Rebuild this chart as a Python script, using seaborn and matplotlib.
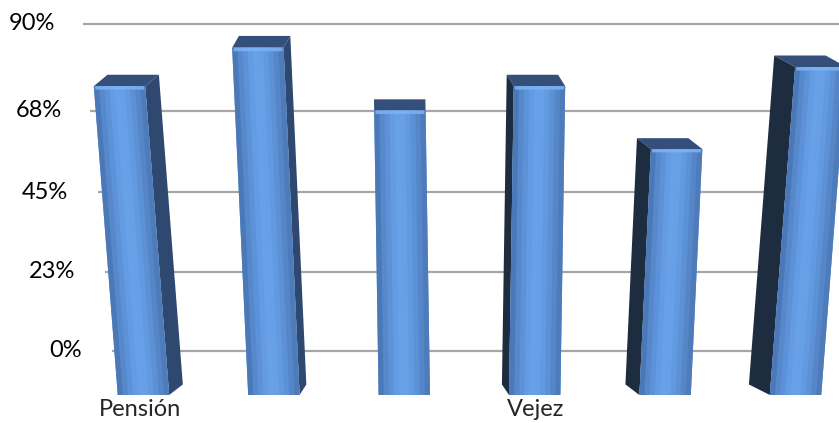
import matplotlib.pyplot as plt
import matplotlib.transforms as mtransforms
import numpy as np
import pandas as pd
import seaborn as sns
from matplotlib.patches import Polygon

# chart data
bar_ids = ["b1", "b2", "b3", "b4", "b5", "b6"]
values = [77, 87, 70.5, 77, 60, 82]
tick_labels = ["Pensión", "", "", "Vejez", "", ""]
grid_levels = [0, 22.5, 45, 67.5, 90]
grid_labels = ["0%", "23%", "45%", "68%", "90%"]

# pixel geometry of the fake 3D view
PX_X, X0 = 131.8, 140.0   # px per category, px of first category at y=0
Y0 = 351.0                # px of the 0% line (from top)
DEPTH_Y = 3.0             # top face depth in percent

FRONT = "#5b8fd6"
TOP = "#34507a"
SIDE_R = "#2e4870"
SIDE_L = "#1e2c40"
# horizontal shading across the front face (left -> right)
FRONT_SHADES = ["#4b79b8", "#5688cc", "#5d92d8", "#649ce3", "#68a1e8",
                "#67a0e7", "#629ae0", "#5c91d6", "#5686c8", "#4e7bb9"]


def fwd(y):
    # slight perspective: the upper part of the wall is stretched (px units)
    y = np.asarray(y, dtype=float)
    return 3.511 * y + 1.68e-7 * y ** 4 * np.sign(y)


_grid = np.linspace(-60, 140, 4001)


def inv(p):
    return np.interp(p, fwd(_grid), _grid)


def xd(px):
    return (px - X0) / PX_X


FLOOR = float(inv(Y0 - 395))

df = pd.DataFrame({"bar": bar_ids, "value": values})

sns.set_theme(style="white")
plt.rcParams["font.family"] = ["Lato", "DejaVu Sans"]

fig = plt.figure(figsize=(8.39, 4.23), dpi=100)
ax = fig.add_axes([0, 0, 1, 1])

sns.barplot(data=df, x="bar", y="value", order=bar_ids, color=FRONT,
            width=0.39, saturation=1, errorbar=None, ax=ax, zorder=3)

ax.set_yscale("function", functions=(fwd, inv))
ax.set_xlim(xd(0), xd(839))
ax.set_ylim(float(inv(Y0 - 423)), float(inv(Y0)))

# back-wall gridlines and their labels (skewed by the perspective)
for lv, lab in zip(grid_levels, grid_labels):
    f = lv / 90
    ax.plot([xd(112 - 29 * f), xd(823 + 16 * f)], [lv, lv],
            color="#a6a6a6", lw=1.6, zorder=1, solid_capstyle="butt")
    ax.text(xd(82 - 27 * f), lv, lab, ha="right", va="center",
            fontsize=17, color="black")

# turn flat bars into 3D-looking columns
for i, (p, v) in enumerate(zip(ax.patches, values)):
    shear = mtransforms.Affine2D([[1, 0.00084 * (i - 2.5), 0],
                                  [0, 1, 0], [0, 0, 1]])
    tr = shear + ax.transData
    x, w = p.get_x(), p.get_width()
    top = v - DEPTH_Y
    p.set_y(FLOOR)
    p.set_height(top - FLOOR)
    p.set_transform(tr)
    p.set_edgecolor("none")

    # shading strips on the front face (overlapping so no seams show)
    n = len(FRONT_SHADES)
    for k, c in enumerate(FRONT_SHADES):
        x1 = x + w * k / n
        x2 = min(x + w * (k + 1.7) / n, x + w)
        ax.add_patch(Polygon([(x1, FLOOR), (x2, FLOOR), (x2, top), (x1, top)],
                             closed=True, facecolor=c, edgecolor="none",
                             transform=tr, zorder=3.1 + k * 0.001))
    # light rim along the top edge of the front face
    ax.add_patch(Polygon([(x + 0.01, top - 0.9), (x + w - 0.01, top - 0.9),
                          (x + w - 0.01, top), (x + 0.01, top)],
                         closed=True, facecolor="#7db4f4", edgecolor="none",
                         alpha=0.85, transform=tr, zorder=3.2))

    dx = -0.055 * (i - 2)
    top_face = [(x, top), (x + w, top), (x + w + dx, top + DEPTH_Y),
                (x + dx, top + DEPTH_Y)]
    ax.add_patch(Polygon(top_face, closed=True, facecolor=TOP,
                         edgecolor="none", transform=tr, zorder=2.9))
    if dx != 0:
        ex = x + w if dx > 0 else x
        side = [(ex, FLOOR), (ex, top), (ex + dx, top + DEPTH_Y),
                (ex + dx, FLOOR + DEPTH_Y)]
        ax.add_patch(Polygon(side, closed=True,
                             facecolor=SIDE_R if dx > 0 else SIDE_L,
                             edgecolor="none", transform=tr, zorder=2.9))

ax.set_xticks(range(len(bar_ids)))
ax.set_xticklabels(tick_labels)
ax.tick_params(axis="x", length=0, pad=-17, labelsize=17)
ax.set_yticks([])
ax.minorticks_off()
ax.set_xlabel("")
ax.set_ylabel("")
for s in ax.spines.values():
    s.set_visible(False)

fig.savefig("out.png", dpi=100)
